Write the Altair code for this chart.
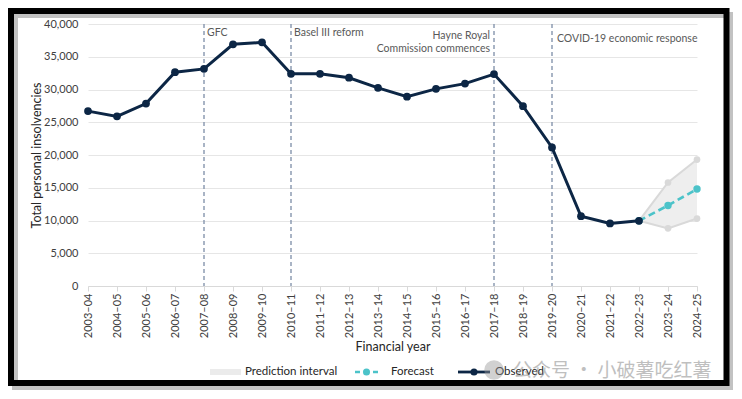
import altair as alt
import pandas as pd

years = ["2003–04", "2004–05", "2005–06", "2006–07", "2007–08", "2008–09", "2009–10",
         "2010–11", "2011–12", "2012–13", "2013–14", "2014–15", "2015–16", "2016–17",
         "2017–18", "2018–19", "2019–20", "2020–21", "2021–22", "2022–23", "2023–24", "2024–25"]
observed = [26700, 25900, 27850, 32650, 33150, 36900, 37200, 32400, 32400, 31800, 30250,
            28900, 30100, 30900, 32350, 27450, 21150, 10650, 9550, 9950]
fc_years = ["2022–23", "2023–24", "2024–25"]
forecast = [9950, 12300, 14800]
lower = [9950, 8800, 10300]
upper = [9950, 15800, 19300]
event_years = ["2007–08", "2010–11", "2017–18", "2019–20"]
event_labels = ["GFC", "Basel III reform", "Hayne Royal\nCommission commences", "COVID-19 economic response"]
y_ticks = [0, 5000, 10000, 15000, 20000, 25000, 30000, 35000, 40000]

FONT = "Lato"
NAVY = "#0c2645"
TEAL = "#4cc3c9"
GREY = "#d9d9d9"

obs_df = pd.DataFrame({"year": years[:len(observed)], "value": observed})
fc_df = pd.DataFrame({"year": fc_years, "value": forecast, "lower": lower, "upper": upper})
ev_df = pd.DataFrame({"year": event_years, "label": event_labels})
one = pd.DataFrame({"k": [0]})

xscale = alt.Scale(domain=years, type="point", padding=0)
yscale = alt.Scale(domain=[0, 40000], nice=False)

XAXIS = alt.Axis(title="Financial year", labelAngle=-90, labelFontSize=11,
                 labelColor="#404040", titleFontSize=12.5, titleFontWeight="normal",
                 titleColor="#262626", domainColor=GREY, tickColor=GREY, tickSize=5,
                 labelPadding=2, titlePadding=3, grid=False, labelFont=FONT, titleFont=FONT)
YAXIS = alt.Axis(title="Total personal insolvencies", values=y_ticks,
                 labelExpr="format(datum.value, ',')",
                 labelFontSize=11, labelColor="#404040", titleFontSize=12.5,
                 titleFontWeight="normal", titleColor="#262626", domain=False,
                 ticks=False, gridColor="#e6e6e6", labelPadding=10, titlePadding=0,
                 labelFont=FONT, titleFont=FONT)

def xe():
    return alt.X("year:N", scale=xscale, sort=years, axis=XAXIS)

def ye(col):
    return alt.Y(f"{col}:Q", scale=yscale, axis=YAXIS)

layers = []

# frame with shadow
layers.append(alt.Chart(one).mark_rect(filled=False, stroke="#9a9a9a", strokeWidth=6, opacity=0.6).encode(
    x=alt.value(-73), x2=alt.value(642), y=alt.value(-9), y2=alt.value(363)))
layers.append(alt.Chart(one).mark_rect(filled=False, stroke="black", strokeWidth=6).encode(
    x=alt.value(-77), x2=alt.value(638.5), y=alt.value(-13), y2=alt.value(359)))

# prediction band
layers.append(alt.Chart(fc_df).mark_area(color="#eeeeee").encode(x=xe(), y=ye("lower"), y2="upper:Q"))
for col in ["upper", "lower"]:
    layers.append(alt.Chart(fc_df).mark_line(color=GREY, strokeWidth=2,
                                             point=alt.OverlayMarkDef(color=GREY, size=45, filled=True, opacity=1)).encode(
        x=xe(), y=ye(col)))

# event rules
layers.append(alt.Chart(ev_df).mark_rule(color="#8595ad", strokeWidth=1.4, strokeDash=[4, 3]).encode(x=xe()))

# forecast
layers.append(alt.Chart(fc_df).mark_line(color=TEAL, strokeWidth=2.6, strokeDash=[7, 4],
                                         point=alt.OverlayMarkDef(color=TEAL, size=55, filled=True, opacity=1)).encode(
    x=xe(), y=ye("value")))

# observed
layers.append(alt.Chart(obs_df).mark_line(color=NAVY, strokeWidth=3,
                                          point=alt.OverlayMarkDef(color=NAVY, size=60, filled=True, opacity=1)).encode(
    x=xe(), y=ye("value")))

# annotations
ann_specs = [(0, "left", 3, 8.7), (1, "left", 3, 8.7), (2, "right", -4, 12.2), (3, "left", 5, 14.7)]
for i, align, dx, ypix in ann_specs:
    layers.append(alt.Chart(ev_df.iloc[[i]]).mark_text(
        align=align, baseline="middle", dx=dx, fontSize=10.5, font=FONT, color="#595959",
        lineBreak="\n", lineHeight=12.6).encode(
        x=xe(), y=alt.value(ypix), text="label:N"))

# legend
LY = 348
TXT = dict(align="left", baseline="middle", fontSize=11.5, font=FONT, color="#262626")
layers.append(alt.Chart(one).mark_rule(color="#ebebeb", strokeWidth=6).encode(
    x=alt.value(122), x2=alt.value(153), y=alt.value(LY)))
layers.append(alt.Chart(one).mark_text(**TXT).encode(
    x=alt.value(157), y=alt.value(LY), text=alt.value("Prediction interval")))
layers.append(alt.Chart(one).mark_rule(color=TEAL, strokeWidth=2.5, strokeDash=[5, 4]).encode(
    x=alt.value(267), x2=alt.value(290), y=alt.value(LY)))
layers.append(alt.Chart(one).mark_point(color=TEAL, filled=True, size=50, opacity=1).encode(
    x=alt.value(278.5), y=alt.value(LY)))
layers.append(alt.Chart(one).mark_text(**TXT).encode(
    x=alt.value(303), y=alt.value(LY), text=alt.value("Forecast")))
layers.append(alt.Chart(one).mark_rule(color=NAVY, strokeWidth=2.8).encode(
    x=alt.value(370), x2=alt.value(402), y=alt.value(LY)))
layers.append(alt.Chart(one).mark_point(color=NAVY, filled=True, size=50, opacity=1).encode(
    x=alt.value(386), y=alt.value(LY)))
layers.append(alt.Chart(one).mark_text(**TXT).encode(
    x=alt.value(407), y=alt.value(LY), text=alt.value("Observed")))

# watermark
layers.append(alt.Chart(one).mark_point(color="#9a9a9a", filled=True, size=380, opacity=0.45).encode(
    x=alt.value(406), y=alt.value(LY - 2)))
layers.append(alt.Chart(one).mark_text(align="left", baseline="middle", fontSize=19,
                                        font="Noto Sans CJK SC", color="#8c8c8c", opacity=0.55).encode(
    x=alt.value(425), y=alt.value(LY - 1), text=alt.value("公众号 · 小破薯吃红薯")))

chart = alt.layer(*layers).properties(
    width=609, height=262,
    autosize=alt.AutoSizeParams(type="none"),
    padding={"left": 80, "top": 16, "right": 37, "bottom": 105},
    background="white",
).configure_view(strokeWidth=0)

chart.save("out.html", embed_options={"renderer": "svg", "actions": False})
